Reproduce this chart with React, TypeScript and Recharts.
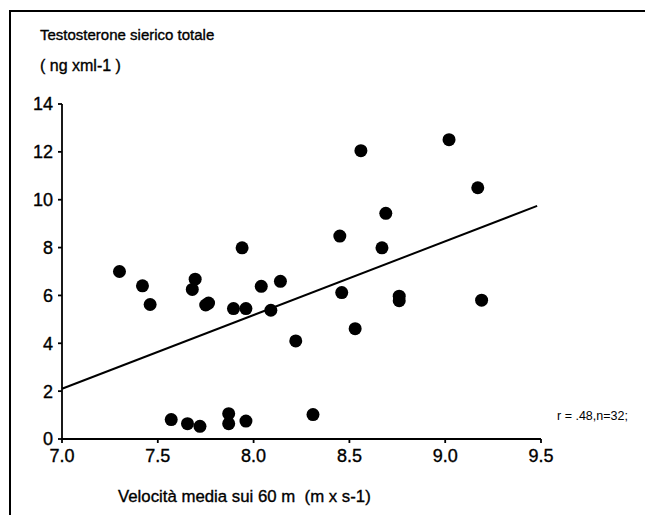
import React from "react";
import { ScatterChart, Scatter, XAxis, YAxis, ReferenceLine } from "recharts";

const velocity = [
  7.30, 7.42, 7.46, 7.695, 7.68, 7.75, 7.765, 7.895, 7.96, 8.04, 8.14, 8.09, 8.22,
  7.57, 7.655, 7.72, 7.87, 7.87, 7.96, 8.31, 7.94,
  8.56, 9.02, 9.17, 8.69, 8.45, 8.67, 8.46, 8.76, 8.76, 9.19, 8.53,
];
const testosterone = [
  7.0, 6.4, 5.62, 6.68, 6.25, 5.6, 5.68, 5.45, 5.45, 6.38, 6.59, 5.38, 4.1,
  0.81, 0.64, 0.53, 1.06, 0.64, 0.75, 1.02, 7.99,
  12.05, 12.51, 10.5, 9.43, 8.48, 7.99, 6.12, 5.97, 5.78, 5.8, 4.61,
];
const xTicks = [7.0, 7.5, 8.0, 8.5, 9.0, 9.5];
const yTicks = [0, 2, 4, 6, 8, 10, 12, 14];
const regressionStart = { x: 7.0, y: 2.1 };
const regressionEnd = { x: 9.48, y: 9.74 };

const titleText = "Testosterone sierico totale";
const unitText = "( ng xml-1 )";
const xLabelText = "Velocità media sui 60 m  (m x s-1)";
const statText = "r = .48,n=32;";

const points = velocity.map((x, i) => ({ x, y: testosterone[i] }));

const FONT = "'Liberation Sans', Arial, sans-serif";

const Dot = (props: any) => {
  const { cx, cy } = props;
  if (cx == null || cy == null) return null;
  return <circle cx={cx} cy={cy} r={6.5} fill="#000" />;
};

const heavy = { WebkitTextStroke: "0.35px #000" } as React.CSSProperties;

export default function App() {
  return (
    <div
      style={{
        position: "absolute",
        left: 0,
        top: 0,
        width: 645,
        height: 515,
        background: "#fff",
        fontFamily: FONT,
        overflow: "hidden",
      }}
    >
      <div
        style={{
          position: "absolute",
          left: 9,
          top: 10,
          width: 640,
          height: 510,
          borderTop: "2px solid #000",
          borderLeft: "2px solid #000",
        }}
      />
      <ScatterChart
        width={645}
        height={515}
        margin={{ top: 104, right: 104, bottom: 46, left: 2 }}
        style={{ position: "absolute", left: 0, top: 0 }}
      >
        <XAxis
          type="number"
          dataKey="x"
          domain={[7, 9.5]}
          ticks={xTicks}
          tickFormatter={(v: number) => v.toFixed(1)}
          allowDataOverflow
          height={30}
          tickSize={4}
          tickMargin={6}
          stroke="#000"
          strokeWidth={1.8}
          tick={{ fill: "#000", fontSize: 18, fontFamily: FONT, stroke: "#000", strokeWidth: 0.35 }}
        />
        <YAxis
          type="number"
          dataKey="y"
          domain={[0, 14]}
          ticks={yTicks}
          allowDataOverflow
          width={60}
          tickSize={4}
          tickMargin={5}
          stroke="#000"
          strokeWidth={1.8}
          tick={{ fill: "#000", fontSize: 18, fontFamily: FONT, stroke: "#000", strokeWidth: 0.35 }}
        />
        <ReferenceLine
          segment={[regressionStart, regressionEnd]}
          stroke="#000"
          strokeWidth={2}
          ifOverflow="visible"
        />
        <Scatter data={points} shape={<Dot />} isAnimationActive={false} />
      </ScatterChart>
      <div style={{ position: "absolute", left: 40, top: 26, fontSize: 15, color: "#000", whiteSpace: "pre", ...heavy }}>
        {titleText}
      </div>
      <div style={{ position: "absolute", left: 40, top: 57, fontSize: 16, color: "#000", whiteSpace: "pre", ...heavy }}>
        {unitText}
      </div>
      <div style={{ position: "absolute", left: 118, top: 487, fontSize: 16.8, color: "#000", whiteSpace: "pre", ...heavy }}>
        {xLabelText}
      </div>
      <div style={{ position: "absolute", left: 557, top: 409, fontSize: 12.5, color: "#000", whiteSpace: "pre" }}>
        {statText}
      </div>
    </div>
  );
}
